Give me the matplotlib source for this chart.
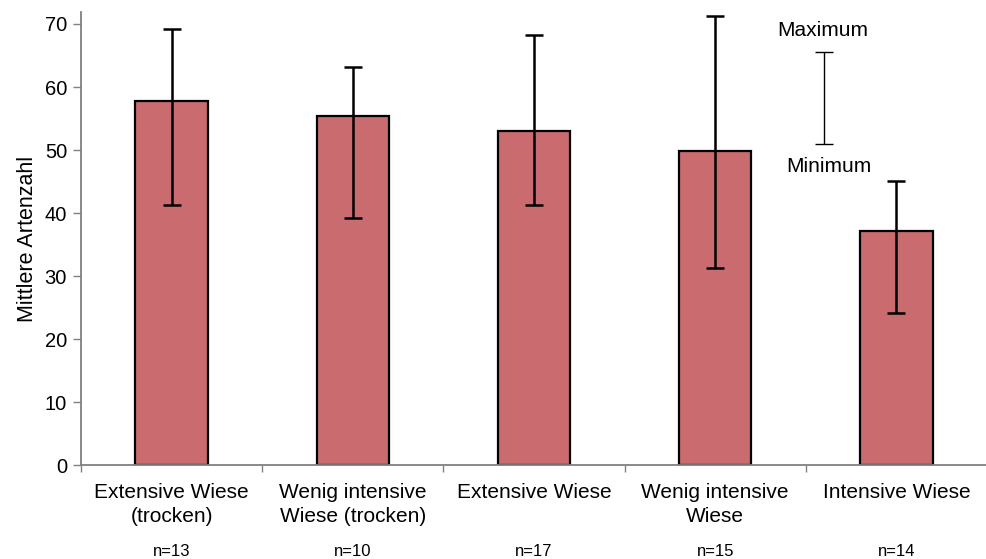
import numpy as np
import matplotlib.pyplot as plt
from matplotlib.transforms import blended_transform_factory

plt.rcParams['font.family'] = ['Liberation Sans', 'DejaVu Sans']

categories = ["Extensive Wiese\n(trocken)", "Wenig intensive\nWiese (trocken)",
              "Extensive Wiese", "Wenig intensive\nWiese", "Intensive Wiese"]
n_labels = ["n=13", "n=10", "n=17", "n=15", "n=14"]
means = [57.8, 55.4, 53.0, 49.9, 37.1]
maxima = [69.2, 63.1, 68.2, 71.2, 45.1]
minima = [41.2, 39.2, 41.2, 31.2, 24.2]

x = np.arange(len(categories))
means_a = np.array(means)
yerr = [means_a - np.array(minima), np.array(maxima) - means_a]

fig = plt.figure(figsize=(9.87, 5.59), dpi=100)
ax = fig.add_axes([0.082, 0.168, 0.918, 0.8105])

ax.bar(x, means, width=0.4, color="#C96B6F", edgecolor="black", linewidth=1.6, zorder=2)
ax.errorbar(x, means, yerr=yerr, fmt="none", ecolor="black", elinewidth=1.8,
            capsize=6.5, capthick=1.8, zorder=3)

ax.set_xlim(-0.5, 4.478)
ax.set_ylim(0, 71.9)
ax.set_yticks(range(0, 71, 10))
ax.tick_params(axis="y", labelsize=14.5, length=6, width=1, color="#808080", direction="out", pad=4)

# category boundaries as ticks, labels centered under bars
ax.set_xticks(np.arange(-0.5, 5.0, 1.0))
ax.set_xticklabels([])
ax.tick_params(axis="x", which="major", length=5, width=1, color="#808080", direction="out")
ax.set_xticks(x, minor=True)
ax.set_xticklabels(categories, minor=True, fontsize=15, linespacing=1.3)
ax.tick_params(axis="x", which="minor", length=0, pad=13)

for s in ["top", "right"]:
    ax.spines[s].set_visible(False)
for s in ["left", "bottom"]:
    ax.spines[s].set_color("#808080")
    ax.spines[s].set_linewidth(1.3)

ax.set_ylabel("Mittlere Artenzahl", fontsize=15.5, labelpad=5)

trans = blended_transform_factory(ax.transData, fig.transFigure)
for xi, lab in zip(x, n_labels):
    ax.text(xi, 0.013, lab, transform=trans, ha="center", va="center", fontsize=12)

# legend explaining the error bars
ax.errorbar([3.6], [58.2], yerr=[[7.3], [7.3]], fmt="none", ecolor="black",
            elinewidth=1, capsize=6.5, capthick=1)
ax.text(3.592, 68.9, "Maximum", ha="center", va="center", fontsize=15)
ax.text(3.625, 47.4, "Minimum", ha="center", va="center", fontsize=15)

fig.savefig("out.png", dpi=100)
